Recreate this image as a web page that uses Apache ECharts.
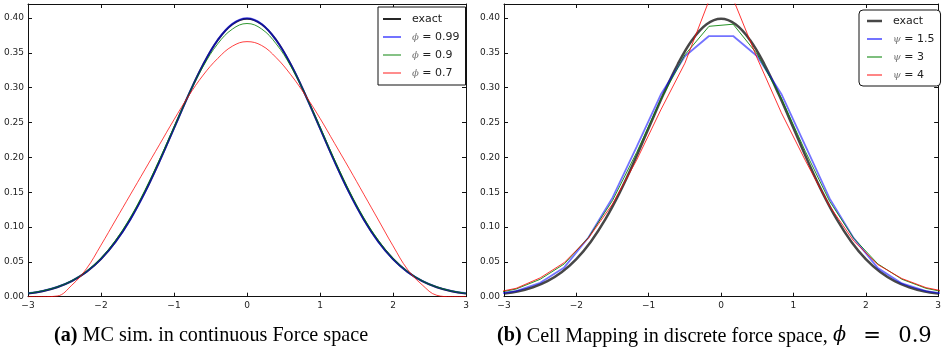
<!DOCTYPE html>
<html>
<head>
<meta charset="utf-8">
<script src="https://cdn.jsdelivr.net/npm/echarts@6/dist/echarts.min.js"></script>
<style>
html,body{margin:0;padding:0;background:#fff;}
#chart{width:944px;height:360px;}
</style>
</head>
<body>
<div id="chart"></div>
<script>
// ---------- data ----------
const xTicks = [-3, -2, -1, 0, 1, 2, 3];
const yTicks = [0.00, 0.05, 0.10, 0.15, 0.20, 0.25, 0.30, 0.35, 0.40];

// left panel (a): fine x grid
const xFine = [-3.0,-2.8,-2.6,-2.4,-2.2,-2.0,-1.8,-1.6,-1.4,-1.2,-1.0,-0.8,-0.6,-0.4,-0.2,0.0,
               0.2,0.4,0.6,0.8,1.0,1.2,1.4,1.6,1.8,2.0,2.2,2.4,2.6,2.8,3.0];
const exactVals = [0.0044,0.0079,0.0136,0.0224,0.0355,0.0540,0.0790,0.1109,0.1497,0.1942,0.2420,0.2897,0.3332,0.3683,0.3910,0.3989,
                   0.3910,0.3683,0.3332,0.2897,0.2420,0.1942,0.1497,0.1109,0.0790,0.0540,0.0355,0.0224,0.0136,0.0079,0.0044];
const phi099 = [0.0050,0.0083,0.0140,0.0228,0.0357,0.0543,0.0789,0.1106,0.1494,0.1940,0.2418,0.2895,0.3330,0.3685,0.3915,0.3995,
                0.3912,0.3680,0.3334,0.2893,0.2421,0.1939,0.1495,0.1108,0.0787,0.0541,0.0356,0.0226,0.0138,0.0082,0.0050];
const phi09 = [0.0050,0.0085,0.0142,0.0232,0.0366,0.0556,0.0812,0.1135,0.1525,0.1966,0.2435,0.2895,0.3305,0.3630,0.3840,0.3920,
               0.3842,0.3628,0.3306,0.2893,0.2437,0.1964,0.1523,0.1133,0.0810,0.0554,0.0364,0.0230,0.0141,0.0084,0.0050];
const phi07 = [0.0000,0.0000,0.0010,0.0165,0.0400,0.0740,0.1100,0.1460,0.1820,0.2180,0.2540,0.2880,0.3180,0.3420,0.3595,0.3660,
               0.3605,0.3430,0.3185,0.2890,0.2560,0.2200,0.1840,0.1470,0.1100,0.0730,0.0390,0.0170,0.0020,0.0000,0.0000];

// right panel (b): cell-mapping grid
const xCell = [-3.167,-2.833,-2.5,-2.167,-1.833,-1.5,-1.167,-0.833,-0.5,-0.167,
               0.167,0.5,0.833,1.167,1.5,1.833,2.167,2.5,2.833,3.167];
const psi15 = [0.003,0.008,0.020,0.042,0.085,0.142,0.215,0.290,0.345,0.374,
               0.374,0.345,0.291,0.216,0.141,0.084,0.041,0.019,0.008,0.003];
const psi3 = [0.004,0.011,0.025,0.047,0.085,0.138,0.207,0.283,0.347,0.388,
              0.391,0.348,0.285,0.208,0.137,0.084,0.047,0.025,0.012,0.005];
const xCellRed = [-3.167,-2.833,-2.5,-2.167,-1.833,-1.5,-1.167,-0.833,-0.5,0.0,
                  0.5,0.833,1.167,1.5,1.833,2.167,2.5,2.833,3.167];
const psi4 = [0.005,0.012,0.027,0.049,0.084,0.133,0.196,0.268,0.335,0.470,
              0.342,0.264,0.195,0.130,0.080,0.046,0.026,0.013,0.006];

const legendA = ['exact', 'ϕ = 0.99', 'ϕ = 0.9', 'ϕ = 0.7'];
const legendB = ['exact ', 'ψ = 1.5', 'ψ = 3', 'ψ = 4'];
const captionA = ['(a)', ' MC sim. in continuous Force space'];
const captionB = ['(b)', ' Cell Mapping in discrete force space, ', 'ϕ', ' \u2002=\u2002 0.9'];

// ---------- helpers ----------
const pairs = (xs, ys) => xs.map((x, i) => [x, ys[i]]);
const FONT = 'DejaVu Sans';
const fmtX = v => String(v).replace('-', '\u2212');
const fmtY = v => v.toFixed(2);

function makeAxes(gridIndex) {
  const common = {gridIndex, type: 'value', splitLine: {show: false},
    axisLine: {show: true, onZero: false, lineStyle: {color: '#111', width: 1}},
    axisTick: {show: true, inside: true, length: 4, lineStyle: {color: '#111'}}};
  const xa = [
    Object.assign({}, common, {position: 'bottom', min: -3, max: 3, interval: 1,
      axisLabel: {show: true, margin: 4, fontSize: 9, fontFamily: FONT, color: '#222', formatter: fmtX}}),
    Object.assign({}, common, {position: 'top', min: -3, max: 3, interval: 1, axisLabel: {show: false}})
  ];
  const ya = [
    Object.assign({}, common, {position: 'left', min: 0, max: 0.42, interval: 0.05,
      axisLabel: {show: true, margin: 4, fontSize: 9, fontFamily: FONT, color: '#222', formatter: fmtY, showMaxLabel: false}}),
    Object.assign({}, common, {position: 'right', min: 0, max: 0.42, interval: 0.05, axisLabel: {show: false}})
  ];
  return {xa, ya};
}
const A = makeAxes(0), B = makeAxes(1);

function line(name, data, xi, yi, color, width, smooth, z) {
  return {name, type: 'line', data, xAxisIndex: xi, yAxisIndex: yi, symbol: 'none',
    smooth: smooth, clip: true, z: z,
    lineStyle: {color, width}, itemStyle: {color}};
}

// legend icons: a line segment inside a fixed box (box sets the spacing)
const iconA = w => 'path://M0,0M0,' + (6 - w / 2) + 'h18v' + w + 'h-18zM24,12';
const iconB = w => 'path://M0,0M0,' + (6 - w / 2) + 'h15v' + w + 'h-15zM21,12';
const widthsA = [2, 2, 1.2, 1.2];
const widthsB = [2.5, 2, 1.2, 1.2];

const legendCommon = {
  orient: 'vertical', backgroundColor: '#fff', borderColor: '#111', borderWidth: 1,
  itemGap: 6, itemHeight: 12,
  textStyle: {fontFamily: FONT, fontSize: 11, color: '#222',
    rich: {g: {fontFamily: 'DejaVu Serif', fontStyle: 'italic', fontSize: 10, color: '#777'}}},
  formatter: n => n.replace(/^([ϕψ])/, '{g|$1}'),
  selectedMode: false
};

const option = {
  animation: false,
  backgroundColor: '#fff',
  grid: [
    {left: 28, top: 4, width: 438, height: 292.7},
    {left: 504, top: 4, width: 438, height: 292.7}
  ],
  xAxis: [...A.xa, ...B.xa],
  yAxis: [...A.ya, ...B.ya],
  legend: [
    Object.assign({}, legendCommon, {
      data: legendA.map((n, i) => ({name: n, icon: iconA(widthsA[i])})),
      itemWidth: 24, left: 378, top: 7, padding: [6, 6, 6, 5], borderRadius: 0}),
    Object.assign({}, legendCommon, {
      data: legendB.map((n, i) => ({name: n, icon: iconB(widthsB[i])})),
      itemWidth: 21, left: 859, top: 10, padding: [5, 6, 5, 8], borderRadius: 4})
  ],
  series: [
    line('exact', pairs(xFine, exactVals), 0, 0, 'rgba(0,0,0,0.85)', 2, 0.4, 2),
    line('ϕ = 0.99', pairs(xFine, phi099), 0, 0, 'rgba(0,0,255,0.55)', 2, 0.4, 3),
    line('ϕ = 0.9', pairs(xFine, phi09), 0, 0, 'rgba(0,128,0,0.8)', 1, 0.4, 4),
    line('ϕ = 0.7', pairs(xFine, phi07), 0, 0, 'rgba(255,0,0,0.75)', 1, 0.4, 5),
    line('exact ', pairs(xFine, exactVals), 2, 2, 'rgba(0,0,0,0.72)', 2.5, 0.4, 2),
    line('ψ = 1.5', pairs(xCell, psi15), 2, 2, 'rgba(0,0,255,0.55)', 1.8, false, 3),
    line('ψ = 3', pairs(xCell, psi3), 2, 2, 'rgba(0,128,0,0.85)', 1, false, 4),
    line('ψ = 4', pairs(xCellRed, psi4), 2, 2, 'rgba(255,0,0,0.8)', 1, false, 5)
  ],
  graphic: [
    {type: 'text', left: 54, top: 325, scaleX: 0.96, style: {
      text: '{b|' + captionA[0] + '}{r|' + captionA[1] + '}',
      rich: {b: {fontFamily: 'Liberation Serif', fontWeight: 'bold', fontSize: 21, fill: '#000'},
             r: {fontFamily: 'Liberation Serif', fontSize: 21, fill: '#000'}}}},
    {type: 'text', left: 497, top: 325, scaleX: 0.96, style: {
      text: '{b|' + captionB[0] + '}{r|' + captionB[1] + '}{i|' + captionB[2] + '}{m|' + captionB[3] + '}',
      rich: {b: {fontFamily: 'Liberation Serif', fontWeight: 'bold', fontSize: 21, fill: '#000'},
             r: {fontFamily: 'Liberation Serif', fontSize: 21, fill: '#000'},
             i: {fontFamily: 'DejaVu Serif', fontStyle: 'italic', fontSize: 20, fill: '#000'},
             m: {fontFamily: 'DejaVu Serif', fontSize: 22, fill: '#000'}}}}
  ]
};

const chart = echarts.init(document.getElementById('chart'), null, {renderer: 'canvas'});
chart.setOption(option);
</script>
</body>
</html>
